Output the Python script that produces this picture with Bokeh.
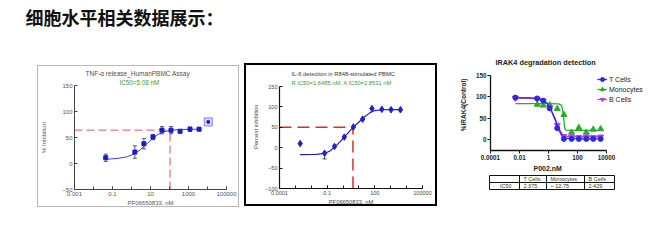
from bokeh.plotting import figure
from bokeh.models import (Title, FixedTicker, Whisker, TeeHead, ColumnDataSource,
                          Legend, LegendItem, Spacer)
from bokeh.layouts import row, column
from bokeh.embed import file_html
from bokeh.resources import INLINE
from bokeh.core.properties import value

FONT = "Liberation Sans"
CJK = "Noto Sans CJK SC"

page_title = "细胞水平相关数据展示："

# ---------------- chart 1 : TNF-α release ----------------
c1_title = "TNF-α release_HumanPBMC Assay"
c1_subtitle = "IC50=5.08 nM"
c1_xlabel = "PF06650833, nM"
c1_ylabel = "% Inhibition"
c1_conc = [0.044, 1.5, 4.5, 13.5, 40, 120, 360, 1200, 3600]
c1_inhib = [11, 22, 38, 51, 64, 64, 62, 66, 66]
c1_err = [7, 12, 10, 5, 7, 7, 3, 4, 3]
c1_excl_conc = [11000]
c1_excl_inhib = [80]
c1_fit_conc = [0.044, 0.2, 0.6, 1.5, 3, 6, 12, 25, 50, 120, 400, 3600]
c1_fit_inhib = [8, 10, 13, 19, 27, 37, 47, 56, 61, 64, 65.5, 66]
c1_guide_conc = 107
c1_guide_inhib = 64
c1_xticks = [1e-3, 1e-1, 1e1, 1e3, 1e5]
c1_xtick_labels = ["0.001", "0.1", "10", "1000", "100000"]
c1_xminor = [1e-3, 1e-2, 1e-1, 1e0, 1e1, 1e2, 1e3, 1e4, 1e5]
c1_yticks = [-50, 0, 50, 100, 150]

# ---------------- chart 2 : IL-6 ----------------
c2_title = "IL-6 detection in R848-stimulated PBMC"
c2_subtitle = "R IC50=1.6485 nM, A IC50=2.8531 nM"
c2_xlabel = "PF06650833, nM"
c2_ylabel = "Percent inhibition"
c2_conc = [0.002, 0.069, 0.29, 1.2, 4.5, 17, 66, 275, 1050, 4100]
c2_inhib = [10, -13.5, 3, 26, 51, 70, 96, 94, 93, 93]
c2_err_low = [0, 14, 0, 0, 0, 0, 0, 0, 0, 0]
c2_fit_conc = [0.002, 0.02, 0.07, 0.15, 0.3, 0.6, 1.2, 2.5, 4.5, 10, 20, 50, 100, 300, 1000, 4100]
c2_fit_inhib = [-17, -16.5, -14, -8, 2, 13, 26, 40, 51, 63, 74, 86, 91, 93, 93.5, 93.5]
c2_guide_conc = 4.2
c2_guide_inhib = 50
c2_xticks = [1e-4, 1e-1, 1e2, 1e5]
c2_xtick_labels = ["0.0001", "0.1", "100", "100000"]
c2_xminor = [1e-4, 1e-3, 1e-2, 1e-1, 1e0, 1e1, 1e2, 1e3, 1e4, 1e5]
c2_yticks = [-100, -50, 0, 50, 100, 150]

# ---------------- chart 3 : IRAK4 degradation ----------------
c3_title = "IRAK4  degradation detection"
c3_xlabel = "P002,nM"
c3_ylabel = "%IRAK4(Control)"
c3_series = ["T Cells", "Monocytes", "B Cells"]
c3_conc = [0.0052, 0.166, 0.43, 1.2, 4.0, 11.5, 39, 123, 400, 1200, 3900]
c3_tcell = [98, 96, 91, 73, 27, 2, 2, 2, 2, 2, 2]
c3_bcell = [97, 95, 90, 75, 34, 8, 7, 6, 7, 6, 7]
c3_mono_conc = [0.166, 0.43, 1.2, 4.0, 11.5, 39, 123, 400, 1200, 3900]
c3_mono = [82, 80, 81, 72, 58, 17, 28, 17, 24, 25]
c3_fit_conc = [0.0052, 0.05, 0.17, 0.43, 0.8, 1.4, 3, 5.1, 8.7, 15, 100, 3900]
c3_fit_t = [98, 97.5, 96, 92, 85, 71, 45, 23, 8, 3, 2, 2]
c3_fit_b = [97, 96.5, 95, 91, 84, 72, 48, 27, 13, 8, 7, 7]
c3_fit_mono_conc = [0.0052, 1, 5, 8, 10, 11.5, 13, 16, 30, 3900]
c3_fit_mono = [84, 84, 83.5, 80, 65, 45, 27, 22.5, 22, 22]
c3_xticks = [1e-4, 1e-2, 1e0, 1e2, 1e4]
c3_xtick_labels = ["0.0001", "0.01", "1", "100", "10000"]
c3_yticks = [0, 50, 100, 150]

# table under chart 3
tbl_header = ["", "T Cells", "Monocytes", "B Cells"]
tbl_row = ["IC50", "2.375", "~ 12.75", "2.429"]
tbl_col_w = [30, 27, 38, 30]
tbl_row_h = 7


def base_fig(**kw):
    p = figure(toolbar_location=None, output_backend="svg", **kw)
    p.xgrid.visible = False
    p.ygrid.visible = False
    p.background_fill_color = "white"
    p.border_fill_color = "white"
    return p


def style_axis(ax, size, color, line_color, tin, tout, bold=False, lw=1):
    ax.axis_line_color = line_color
    ax.axis_line_width = lw
    ax.major_tick_line_color = line_color
    ax.minor_tick_line_color = line_color
    ax.major_tick_in = tin
    ax.major_tick_out = tout
    ax.minor_tick_in = tin
    ax.minor_tick_out = tout
    ax.major_label_text_font = FONT
    ax.major_label_text_font_size = size
    ax.major_label_text_color = color
    ax.major_label_text_font_style = "bold" if bold else "normal"
    ax.axis_label_text_font = FONT
    ax.axis_label_text_font_style = "bold" if bold else "normal"
    ax.axis_label_text_color = color


# ---------------- page title ----------------
pt = figure(width=660, height=48, title=page_title, toolbar_location=None,
            output_backend="svg", x_axis_location=None, y_axis_location=None,
            min_border=0, outline_line_color=None)
pt.title.text_font = CJK
pt.title.text_font_size = "18px"
pt.title.text_font_style = "bold"
pt.title.text_color = "#111111"
pt.title.align = "left"
pt.title.offset = 25
pt.title.standoff = 2

# ---------------- chart 1 ----------------
p1 = base_fig(width=202, height=142, x_axis_type="log", x_range=(1e-3, 1e5), y_range=(-50, 150),
              min_border_left=35, min_border_right=14, min_border_top=19, min_border_bottom=17,
              outline_line_color=None,
              styles={"border": "1px solid #b9b9b9", "box-sizing": "border-box"})
p1.add_layout(Title(text=c1_subtitle, align="left", offset=45, text_font=FONT, text_font_size="6.3px",
                    text_font_style="normal", text_color="#3d9b3d", standoff=0), "above")
p1.add_layout(Title(text=c1_title, align="left", offset=11, text_font=FONT, text_font_size="6.5px",
                    text_font_style="normal", text_color="#505050", standoff=0), "above")
for ax in (p1.xaxis[0], p1.yaxis[0]):
    style_axis(ax, "6px", "#555555", "#444444", 3, 0)
    ax.major_label_standoff = 2
p1.xaxis.ticker = FixedTicker(ticks=c1_xticks, minor_ticks=c1_xminor)
p1.xaxis.major_label_overrides = dict(zip(c1_xticks, c1_xtick_labels))
p1.yaxis.ticker = FixedTicker(ticks=c1_yticks, minor_ticks=[])
p1.xaxis.axis_label = c1_xlabel
p1.xaxis.axis_label_text_font_size = "6px"
p1.xaxis.axis_label_standoff = 1
p1.yaxis.axis_label = c1_ylabel
p1.yaxis.axis_label_text_font_size = "6px"
p1.yaxis.axis_label_standoff = 12

p1.line([c1_xticks[0], c1_guide_conc], [c1_guide_inhib, c1_guide_inhib],
        line_color="#f07474", line_width=1.3, line_dash="8 4")
p1.line([c1_guide_conc, c1_guide_conc], [c1_yticks[0], c1_guide_inhib],
        line_color="#f07474", line_width=1.3, line_dash="8 4")
p1.line(c1_fit_conc, c1_fit_inhib, line_color="#3a3ae8", line_width=1)
src1 = ColumnDataSource(dict(x=c1_conc, y=c1_inhib,
                             lo=[v - e for v, e in zip(c1_inhib, c1_err)],
                             hi=[v + e for v, e in zip(c1_inhib, c1_err)]))
p1.add_layout(Whisker(source=src1, base="x", lower="lo", upper="hi", line_color="#333333", line_width=0.8,
                      lower_head=TeeHead(size=4, line_color="#333333", line_width=0.8),
                      upper_head=TeeHead(size=4, line_color="#333333", line_width=0.8)))
p1.scatter("x", "y", source=src1, marker="square", size=4, fill_color="#1a1ad0", line_color="#1a1ad0")
p1.scatter(c1_excl_conc, c1_excl_inhib, marker="square", size=8, fill_color="#dcdcff", line_color="#7a7aff")
p1.scatter(c1_excl_conc, c1_excl_inhib, marker="square", size=2.5, fill_color="#1a1ad0", line_color="#1a1ad0")

# ---------------- chart 2 ----------------
p2 = base_fig(width=193, height=143, x_axis_type="log", x_range=(1e-4, 1e5), y_range=(-100, 150),
              min_border_left=29, min_border_right=17, min_border_top=21, min_border_bottom=20,
              outline_line_color=None,
              styles={"border": "2px solid #000000", "box-sizing": "border-box"})
p2.add_layout(Title(text=c2_subtitle, align="left", offset=12, text_font=FONT, text_font_size="5.8px",
                    text_font_style="normal", text_color="#3d9b3d", standoff=2), "above")
p2.add_layout(Title(text=c2_title, align="left", offset=12, text_font=FONT, text_font_size="5.8px",
                    text_font_style="normal", text_color="#333333", standoff=0), "above")
p2.add_layout(Title(text=c2_ylabel, align="right", offset=18, text_font=FONT, text_font_size="5.8px",
                    text_font_style="normal", text_color="#444444", standoff=8), "left")
for ax in (p2.xaxis[0], p2.yaxis[0]):
    style_axis(ax, "5.5px", "#444444", "#111111", 3, 0, lw=1.2)
    ax.major_label_standoff = 2
p2.xaxis.ticker = FixedTicker(ticks=c2_xticks, minor_ticks=c2_xminor)
p2.xaxis.major_label_overrides = dict(zip(c2_xticks, c2_xtick_labels))
p2.yaxis.ticker = FixedTicker(ticks=c2_yticks, minor_ticks=[])
p2.xaxis.axis_label = c2_xlabel
p2.xaxis.axis_label_text_font_size = "5.8px"
p2.xaxis.axis_label_standoff = 1

p2.line([c2_xticks[0], c2_guide_conc], [c2_guide_inhib, c2_guide_inhib],
        line_color="#e02a2a", line_width=1.5, line_dash="12 6")
p2.line([c2_guide_conc, c2_guide_conc], [c2_yticks[0], c2_guide_inhib],
        line_color="#e02a2a", line_width=1.5, line_dash="12 6")
p2.line(c2_fit_conc, c2_fit_inhib, line_color="#1c1cd0", line_width=1.2)
err_idx = [i for i, e in enumerate(c2_err_low) if e > 0]
src2e = ColumnDataSource(dict(x=[c2_conc[i] for i in err_idx], y=[c2_inhib[i] for i in err_idx],
                              lo=[c2_inhib[i] - c2_err_low[i] for i in err_idx]))
p2.add_layout(Whisker(source=src2e, base="x", lower="lo", upper="y", line_color="#222222", line_width=0.8,
                      lower_head=TeeHead(size=4, line_color="#222222", line_width=0.8), upper_head=None))
p2.scatter(c2_conc, c2_inhib, marker="diamond", size=6.5, fill_color="#1f1fd0", line_color="#1f1fd0")

# ---------------- chart 3 ----------------
p3 = base_fig(width=220, height=123, x_axis_type="log", x_range=(1e-4, 10 ** 7.72), y_range=(-25, 161),
              min_border_left=50, min_border_right=0, min_border_top=22, min_border_bottom=18,
              outline_line_color=None)
p3.add_layout(Title(text=c3_title, align="left", offset=5, text_font=FONT, text_font_size="7.3px",
                    text_font_style="bold", text_color="#222222", standoff=8), "above")
p3.add_layout(Title(text=c3_ylabel, align="right", offset=8, text_font=FONT, text_font_size="6.5px",
                    text_font_style="bold", text_color="#222222", standoff=11), "left")
p3.add_layout(Title(text=c3_xlabel, align="left", offset=43, text_font=FONT, text_font_size="7px",
                    text_font_style="bold", text_color="#222222", standoff=0), "below")
for ax in (p3.xaxis[0], p3.yaxis[0]):
    style_axis(ax, "6.3px", "#222222", "#111111", 0, 3, bold=True, lw=1.3)
    ax.major_label_standoff = 1
p3.xaxis.ticker = FixedTicker(ticks=c3_xticks, minor_ticks=[])
p3.xaxis.major_label_overrides = dict(zip(c3_xticks, c3_xtick_labels))
p3.xaxis.bounds = (c3_xticks[0], c3_xticks[-1])
p3.yaxis.ticker = FixedTicker(ticks=c3_yticks, minor_ticks=[])
p3.yaxis.bounds = (-25, c3_yticks[-1])

col_t, col_m, col_b = "#2a2ae6", "#25b025", "#c03ee0"
lm = p3.line(c3_fit_mono_conc, c3_fit_mono, line_color=col_m, line_width=1.3)
sm = p3.scatter(c3_mono_conc, c3_mono, marker="triangle", size=6, fill_color=col_m, line_color=col_m)
lb = p3.line(c3_fit_conc, c3_fit_b, line_color=col_b, line_width=1.3)
sb = p3.scatter(c3_conc, c3_bcell, marker="inverted_triangle", size=6, fill_color=col_b, line_color=col_b)
lt = p3.line(c3_fit_conc, c3_fit_t, line_color=col_t, line_width=1.3)
st = p3.scatter(c3_conc, c3_tcell, marker="circle", size=5, fill_color=col_t, line_color=col_t)
legend = Legend(items=[LegendItem(label=c3_series[0], renderers=[lt, st]),
                       LegendItem(label=c3_series[1], renderers=[lm, sm]),
                       LegendItem(label=c3_series[2], renderers=[lb, sb])],
                location=(107, 46), glyph_width=10, glyph_height=10, label_height=10,
                spacing=0, padding=0, margin=0, label_standoff=2,
                label_text_font=FONT, label_text_font_size="7px", label_text_color="#222222",
                border_line_color=None, background_fill_alpha=0)
p3.add_layout(legend)

# ---------------- table ----------------
tbl_total = sum(tbl_col_w)
ptab = figure(width=tbl_total + 2, height=2 * tbl_row_h + 2, x_range=(-1, tbl_total + 1),
              y_range=(-1, 2 * tbl_row_h + 1), toolbar_location=None, output_backend="svg",
              x_axis_location=None, y_axis_location=None, min_border=0, outline_line_color=None)
ptab.xgrid.visible = False
ptab.ygrid.visible = False
edges = [0]
for w in tbl_col_w:
    edges.append(edges[-1] + w)
q_l, q_r, q_t, q_b = [], [], [], []
t_x, t_y, t_txt, t_al = [], [], [], []
for r, cells in enumerate([tbl_header, tbl_row]):
    top = 2 * tbl_row_h - r * tbl_row_h
    for c, txt in enumerate(cells):
        q_l.append(edges[c]); q_r.append(edges[c + 1]); q_t.append(top); q_b.append(top - tbl_row_h)
        if txt:
            if r == 1 and c == 0:
                t_x.append(edges[c + 1] - 8); t_al.append("right")
            else:
                t_x.append(edges[c] + 4); t_al.append("left")
            t_y.append(top - tbl_row_h / 2); t_txt.append(txt)
ptab.quad(left=q_l, right=q_r, top=q_t, bottom=q_b, fill_color=None, line_color="#111111", line_width=1)
ptab.text(x=t_x, y=t_y, text=t_txt, text_align=t_al, text_baseline="middle",
          text_font=value(FONT), text_font_size="5.5px", text_color="#333333")

root = column(
    pt,
    row(Spacer(width=37),
        column(Spacer(height=17), p1),
        Spacer(width=5),
        column(Spacer(height=15), p2),
        Spacer(width=3),
        column(p3, Spacer(height=3), row(Spacer(width=48), ptab))),
)

open("out.html", "w").write(file_html(root, INLINE))
